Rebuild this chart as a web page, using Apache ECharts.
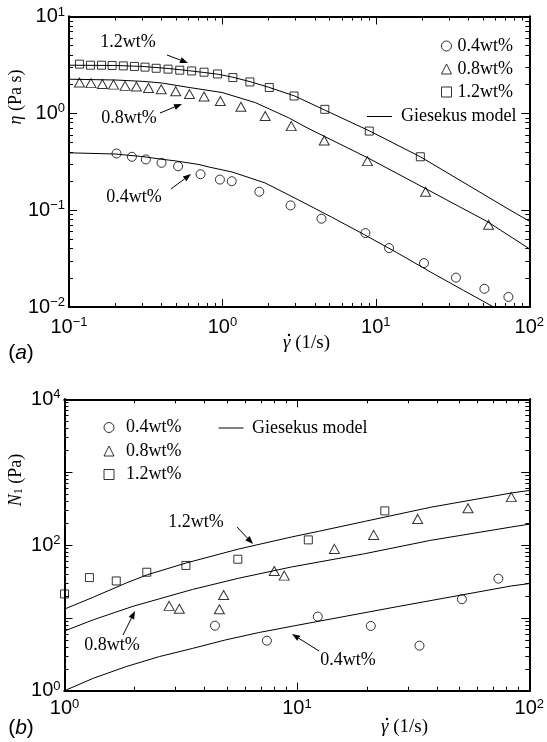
<!DOCTYPE html>
<html lang="en">
<head>
<meta charset="UTF-8">
<title>Viscosity and N1 vs shear rate</title>
<style>
  * { margin: 0; padding: 0; }
  body { background: #ffffff; }
  #main { width: 547px; height: 742px; }
</style>
</head>
<body>
<div id="main"></div>
<script src="https://cdn.jsdelivr.net/npm/echarts@6/dist/echarts.min.js"></script>
<script>
// (a) viscosity, measured
var etaRate04 = [0.204, 0.257, 0.317, 0.401, 0.514, 0.720, 0.963, 1.15, 1.74, 2.78, 4.42, 8.55, 12.2, 20.6, 33.3, 51.0, 73.1];
var eta04 = [0.385, 0.356, 0.334, 0.308, 0.284, 0.235, 0.207, 0.199, 0.155, 0.112, 0.0816, 0.058, 0.0406, 0.0284, 0.0201, 0.0154, 0.0127];
var etaRate08 = [0.117, 0.139, 0.165, 0.195, 0.232, 0.275, 0.330, 0.399, 0.496, 0.610, 0.759, 0.969, 1.32, 1.90, 2.81, 4.61, 8.81, 21.1, 54.3];
var eta08 = [2.08, 2.05, 2.01, 1.98, 1.92, 1.89, 1.83, 1.77, 1.69, 1.58, 1.49, 1.34, 1.17, 0.938, 0.738, 0.525, 0.321, 0.155, 0.0708];
var etaRate12 = [0.117, 0.138, 0.163, 0.191, 0.226, 0.267, 0.313, 0.370, 0.442, 0.527, 0.630, 0.759, 0.929, 1.17, 1.51, 2.02, 2.93, 4.65, 9.06, 19.5];
var eta12 = [3.22, 3.14, 3.14, 3.12, 3.09, 3.05, 3.00, 2.92, 2.86, 2.79, 2.74, 2.66, 2.55, 2.34, 2.11, 1.85, 1.51, 1.10, 0.656, 0.356];

// (a) Giesekus model curves
var fitEtaRate04 = [0.1, 0.2, 0.3, 0.388, 0.5, 0.703, 0.817, 1.155, 1.9, 3.12, 5.13, 8.44, 13.9, 22.8, 37.4, 58.6];
var fitEta04 = [0.391, 0.380, 0.358, 0.338, 0.322, 0.296, 0.279, 0.248, 0.191, 0.128, 0.085, 0.0557, 0.036, 0.0229, 0.0148, 0.01];
var fitEtaRate08 = [0.1, 0.2, 0.3, 0.4, 0.606, 0.995, 1.64, 2.69, 3.62, 4.65, 8.86, 21.7, 53, 100];
var fitEta08 = [2.25, 2.21, 2.14, 2.06, 1.85, 1.64, 1.29, 0.902, 0.70, 0.575, 0.347, 0.163, 0.0766, 0.040];
var fitEtaRate12 = [0.1, 0.2, 0.3, 0.45, 0.6, 0.76, 0.94, 1.17, 1.52, 2.0, 2.96, 4.65, 9.06, 19.5, 40, 71.3, 100];
var fitEta12 = [3.14, 3.12, 3.05, 2.90, 2.76, 2.64, 2.53, 2.36, 2.12, 1.86, 1.51, 1.08, 0.66, 0.356, 0.181, 0.105, 0.077];

// (b) first normal stress difference, measured
var n1Rate04 = [4.44, 7.43, 12.3, 20.8, 33.7, 51.3, 73.6];
var n104 = [7.81, 4.86, 10.4, 7.74, 4.15, 18.0, 34.5];
var n1Rate08 = [2.82, 3.12, 4.64, 4.84, 7.99, 8.82, 14.5, 21.4, 33.1, 54.5, 83.7];
var n108 = [14.6, 13.3, 13.1, 20.6, 44.0, 38.0, 88.4, 137.6, 228, 320, 454];
var n1Rate12 = [1.0, 1.28, 1.67, 2.26, 3.33, 5.57, 11.2, 23.9];
var n112 = [21.3, 35.7, 32.1, 42.3, 52.4, 63.8, 117.5, 294];

// (b) Giesekus model curves
var fitN1Rate04 = [1, 1.33, 1.84, 2.56, 3.55, 4.93, 6.85, 9.8, 27.2, 84.2, 100];
var fitN104 = [1.0, 1.48, 2.14, 2.94, 3.8, 4.98, 6.28, 7.8, 14.3, 27.5, 29.5];
var fitN1Rate08 = [1, 1.33, 1.97, 3.55, 5.62, 9.5, 19.6, 37.7, 84.2, 100];
var fitN108 = [6.6, 9.4, 14.4, 24.5, 35, 50, 76, 116, 177, 193];
var fitN1Rate12 = [1, 1.33, 1.84, 2.27, 3.33, 5.62, 9.5, 12.4, 19.6, 37.7, 84.2, 100];
var fitN112 = [13.2, 19.2, 30.0, 39.0, 56.5, 88.1, 129, 154, 211, 330, 519, 560];

// tick values
var aXTicks = [0.1, 1, 10, 100];
var aYTicks = [0.01, 0.1, 1, 10];
var bXTicks = [1, 10, 100];
var bYTicks = [1, 10, 100, 1000, 10000];
var bYLabels = [1, 100, 10000];

var SANS = 'Liberation Sans';
var SERIF = 'Liberation Serif';

function pairs(xs, ys) {
  return xs.map(function (x, i) { return [x, ys[i]]; });
}

function minorTicks(min, max) {
  var out = [];
  for (var d = Math.round(Math.log10(min)); d < Math.round(Math.log10(max)); d++) {
    for (var k = 2; k <= 9; k++) out.push(k * Math.pow(10, d));
  }
  return out;
}

function powLabel(v) {
  var e = Math.round(Math.log10(v));
  return '{b|10}{s|' + (e < 0 ? '\u2212' + (-e) : e) + '}';
}

var labelRich = {
  b: { fontSize: 20, fontFamily: SANS, color: '#000', lineHeight: 22 },
  s: { fontSize: 13, fontFamily: SANS, color: '#000', lineHeight: 13, verticalAlign: 'top' }
};

function logAxis(grid, pos, min, max, ticks, len, labels, margin) {
  return {
    type: 'log', logBase: 10, gridIndex: grid, position: pos, min: min, max: max,
    axisLine: { show: true, onZero: false, lineStyle: { color: '#000', width: 2 } },
    axisTick: { show: true, inside: true, length: len, customValues: ticks, lineStyle: { color: '#000', width: 1 } },
    axisLabel: labels ? { show: true, customValues: labels, formatter: powLabel, rich: labelRich, margin: margin } : { show: false },
    splitLine: { show: false },
    minorTick: { show: false },
    axisPointer: { show: false }
  };
}

function axesFor(grid, p1, p2, min, max, major, labels, margin) {
  var minor = minorTicks(min, max);
  return [
    logAxis(grid, p1, min, max, major, 8, labels, margin),
    logAxis(grid, p1, min, max, minor, 4, null),
    logAxis(grid, p2, min, max, major, 8, null),
    logAxis(grid, p2, min, max, minor, 4, null)
  ];
}

var xAxes = axesFor(0, 'bottom', 'top', 0.1, 100, aXTicks, aXTicks, 9)
  .concat(axesFor(1, 'bottom', 'top', 1, 100, bXTicks, bXTicks, 7));
var yAxes = axesFor(0, 'left', 'right', 0.01, 10, aYTicks, aYTicks, 4)
  .concat(axesFor(1, 'left', 'right', 1, 10000, bYTicks, bYLabels, 4));

var markerStyle = { color: 'rgba(0,0,0,0)', borderColor: '#000', borderWidth: 1 };

function scatter(name, xi, yi, symbol, size, data) {
  return {
    name: name, type: 'scatter', xAxisIndex: xi, yAxisIndex: yi,
    symbol: symbol, symbolSize: size, itemStyle: markerStyle,
    data: data, z: 5, silent: true
  };
}

function model(xi, yi, data) {
  return {
    name: 'Giesekus model', type: 'line', xAxisIndex: xi, yAxisIndex: yi,
    symbol: 'none', showSymbol: false, color: '#000',
    lineStyle: { color: '#000', width: 1 }, data: data, z: 3, silent: true
  };
}

function arrow(x1, y1, x2, y2) {
  var dx = x2 - x1, dy = y2 - y1, len = Math.sqrt(dx * dx + dy * dy);
  var ux = dx / len, uy = dy / len, hl = 8, hw = 3;
  var bx = x2 - ux * hl, by = y2 - uy * hl;
  return [
    { type: 'line', shape: { x1: x1, y1: y1, x2: bx, y2: by }, style: { stroke: '#000', lineWidth: 1 } },
    { type: 'polygon', shape: { points: [[x2, y2], [bx - uy * hw, by + ux * hw], [bx + uy * hw, by - ux * hw]] }, style: { fill: '#000' } }
  ];
}

function note(text, x, y, size, family, rich, rotation, align) {
  return {
    type: 'text', x: x, y: y, rotation: rotation || 0,
    style: { text: text, fontSize: size, fontFamily: family, fill: '#000', align: align || 'center', verticalAlign: 'middle', rich: rich || {} }
  };
}

// shear-rate axis title: italic gamma with a dot above it
function rateTitle(x0, y) {
  return [
    note('{i|\u03B3} (1/s)', x0, y, 19, SERIF, { i: { fontStyle: 'italic', fontSize: 19, fontFamily: SERIF } }, 0, 'left'),
    { type: 'circle', shape: { cx: x0 + 6, cy: y - 8, r: 1.2 }, style: { fill: '#000' } }
  ];
}

var italic = { i: { fontStyle: 'italic', fontSize: 18, fontFamily: SERIF } };
var n1Rich = {
  i: { fontStyle: 'italic', fontSize: 18, fontFamily: SERIF },
  sub: { fontSize: 12, fontFamily: SERIF, verticalAlign: 'bottom', lineHeight: 10 }
};
var panelRich = { i: { fontStyle: 'italic', fontSize: 21, fontFamily: SANS } };

var graphics = [
  note('1.2wt%', 128, 42, 18, SERIF),
  note('0.8wt%', 129, 118, 18, SERIF),
  note('0.4wt%', 134, 197, 18, SERIF),
  note('1.2wt%', 196, 522, 18, SERIF),
  note('0.8wt%', 112, 645, 18, SERIF),
  note('0.4wt%', 348, 660, 18, SERIF),
  note('{i|\u03B7} (Pa s)', 16, 97, 18, SERIF, italic, Math.PI / 2),
  note('{i|N}{sub|1} (Pa)', 16, 480, 18, SERIF, n1Rich, Math.PI / 2),
  note('({i|a})', 21, 353, 21, SANS, panelRich),
  note('({i|b})', 21, 728, 21, SANS, panelRich)
].concat(
  rateTitle(283, 343), rateTitle(381, 727),
  arrow(167, 55, 188, 63), arrow(160, 113, 182, 104), arrow(171, 189, 191, 174),
  arrow(237, 527, 253, 544), arrow(123, 635, 135, 611), arrow(319, 651, 292, 634)
);

var symbolLegend = [
  { name: '0.4wt%', icon: 'circle' },
  { name: '0.8wt%', icon: 'triangle' },
  { name: '1.2wt%', icon: 'rect' }
];
var lineIcon = 'path://M0,0 L100,0 L100,4 L0,4 Z';

var option = {
  animation: false,
  backgroundColor: '#fff',
  grid: [
    { left: 69, right: 14, top: 16.5, bottom: 435 },
    { left: 64.5, right: 14, top: 399.3, bottom: 51.3 }
  ],
  legend: [
    { data: symbolLegend, orient: 'vertical', left: 436, top: 31, itemWidth: 10, itemHeight: 10, itemGap: 3, selectedMode: false,
      itemStyle: markerStyle, textStyle: { fontSize: 18, fontFamily: SERIF, color: '#000', lineHeight: 20, padding: [0, 0, 0, 1] } },
    { data: [{ name: 'Giesekus model', icon: lineIcon }], left: 362, top: 101.5, itemWidth: 25, itemHeight: 1, selectedMode: false,
      textStyle: { fontSize: 18, fontFamily: SERIF, color: '#000', lineHeight: 20, padding: [0, 0, 0, 4] } },
    { data: symbolLegend, orient: 'vertical', left: 98.5, top: 412.5, itemWidth: 10, itemHeight: 10, itemGap: 3.5, selectedMode: false,
      itemStyle: markerStyle, textStyle: { fontSize: 18, fontFamily: SERIF, color: '#000', lineHeight: 20, padding: [0, 0, 0, 7] } },
    { data: [{ name: 'Giesekus model', icon: lineIcon }], left: 213.5, top: 413, itemWidth: 28, itemHeight: 1, selectedMode: false,
      textStyle: { fontSize: 18, fontFamily: SERIF, color: '#000', lineHeight: 20, padding: [0, 0, 0, 2] } }
  ],
  xAxis: xAxes,
  yAxis: yAxes,
  graphic: { elements: graphics },
  series: [
    model(0, 0, pairs(fitEtaRate04, fitEta04)),
    model(0, 0, pairs(fitEtaRate08, fitEta08)),
    model(0, 0, pairs(fitEtaRate12, fitEta12)),
    scatter('0.4wt%', 0, 0, 'circle', 9, pairs(etaRate04, eta04)),
    scatter('0.8wt%', 0, 0, 'triangle', [10, 9], pairs(etaRate08, eta08)),
    scatter('1.2wt%', 0, 0, 'rect', 8, pairs(etaRate12, eta12)),
    model(4, 4, pairs(fitN1Rate04, fitN104)),
    model(4, 4, pairs(fitN1Rate08, fitN108)),
    model(4, 4, pairs(fitN1Rate12, fitN112)),
    scatter('0.4wt%', 4, 4, 'circle', 9, pairs(n1Rate04, n104)),
    scatter('0.8wt%', 4, 4, 'triangle', [10, 9], pairs(n1Rate08, n108)),
    scatter('1.2wt%', 4, 4, 'rect', 8, pairs(n1Rate12, n112))
  ]
};

var chart = echarts.init(document.getElementById('main'));
chart.setOption(option);
</script>
</body>
</html>
